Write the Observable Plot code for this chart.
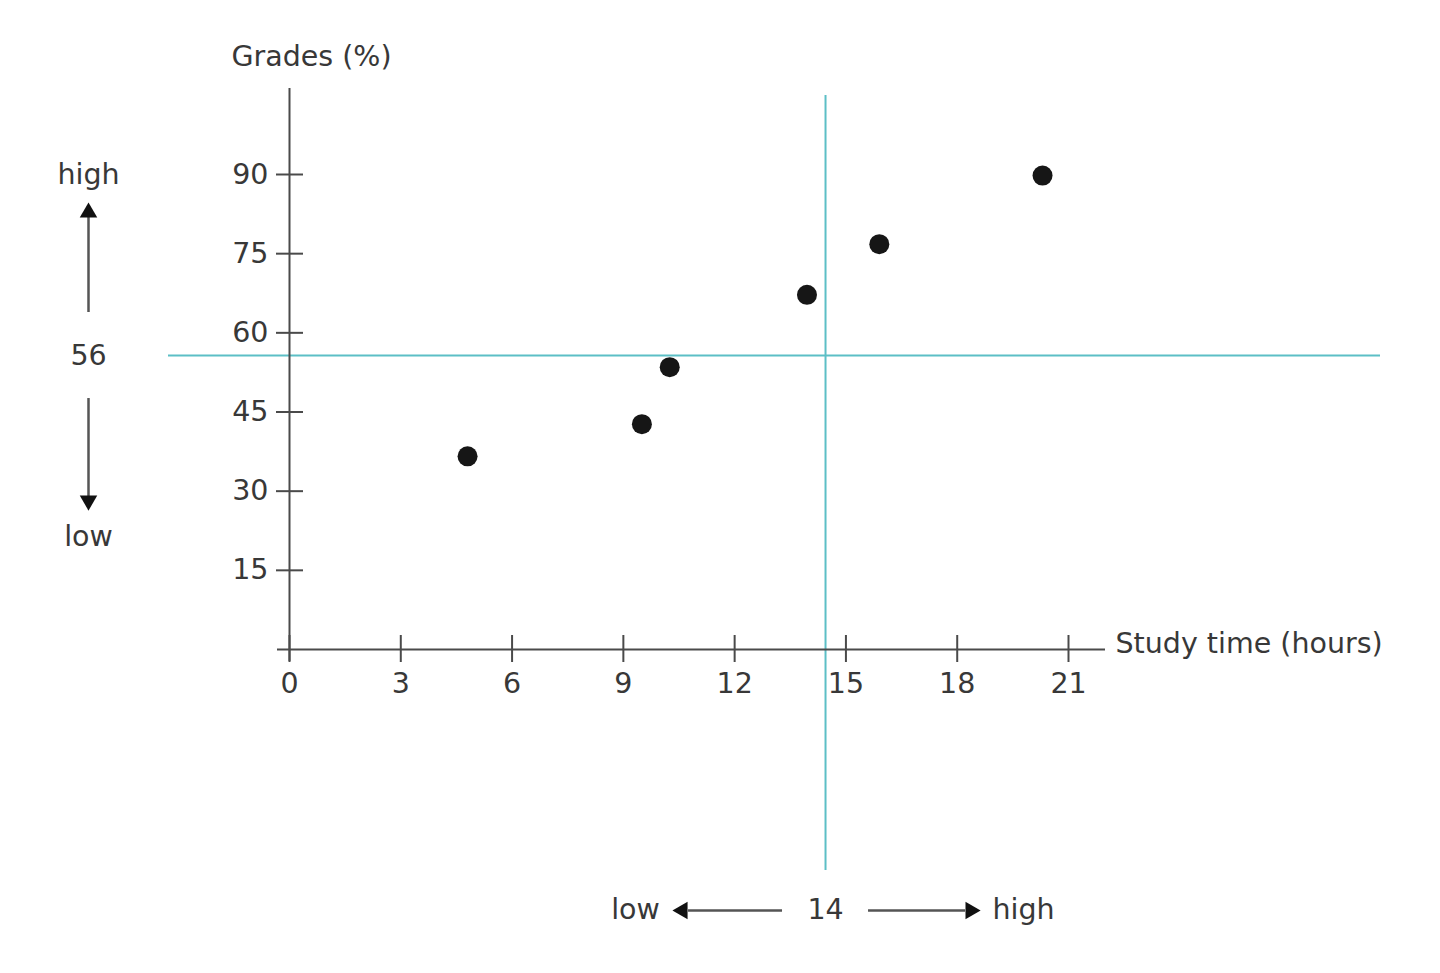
<!DOCTYPE html>
<html>
<head>
<meta charset="utf-8">
<script src="https://cdn.jsdelivr.net/npm/d3@7"></script>
<script src="https://cdn.jsdelivr.net/npm/@observablehq/plot@0.6"></script>
<style>
  html, body { margin: 0; padding: 0; background: #fff; }
  #chart svg { display: block; }
</style>
</head>
<body>
<div id="chart"></div>
<script>
// ---- data ----
const studyHours = [4.8, 9.5, 10.25, 13.95, 15.9, 20.3];
const grades     = [36.6, 42.7, 53.5, 67.2, 76.8, 89.8];
const xTicks = [0, 3, 6, 9, 12, 15, 18, 21];
const yTicks = [15, 30, 45, 60, 75, 90];
const studyRef = 14.45;      // vertical reference line
const studyRefLabel = "14";
const gradeRef = 55.7;       // horizontal reference line
const gradeRefLabel = "56";
const xLabel = "Study time (hours)";
const yLabel = "Grades (%)";
const lowLabel = "low";
const highLabel = "high";

const points = studyHours.map((h, i) => ({hours: h, grade: grades[i]}));

const cyan = "#5cbfc6";
const axisColor = "#4a4a4a";
const textColor = "#383838";
const FONT = 28.5;

const chart = Plot.plot({
  width: 1440,
  height: 973,
  marginLeft: 289,
  marginRight: 372,
  marginTop: 174,
  marginBottom: 324,
  style: {fontFamily: "'DejaVu Sans', sans-serif", background: "#fff", overflow: "visible"},
  x: {domain: [0, 21], axis: null},
  y: {domain: [0, 90], axis: null},
  marks: [
    // reference lines
    Plot.ruleX([studyRef], {stroke: cyan, strokeWidth: 2, insetTop: -79, insetBottom: -221}),
    Plot.ruleY([gradeRef], {stroke: cyan, strokeWidth: 2, insetLeft: -121, insetRight: -312}),
    // axis lines
    Plot.ruleX([0], {stroke: axisColor, strokeWidth: 2, insetTop: -86, insetBottom: -12}),
    Plot.ruleY([0], {stroke: axisColor, strokeWidth: 2, insetLeft: -12, insetRight: -37}),
    // ticks crossing the axes
    Plot.ruleX(xTicks, {x: d => d, y1: 0, y2: 0, insetTop: -14, insetBottom: -13, stroke: axisColor, strokeWidth: 2}),
    Plot.ruleY(yTicks, {y: d => d, x1: 0, x2: 0, insetLeft: -13, insetRight: -14, stroke: axisColor, strokeWidth: 2}),
    // tick labels
    Plot.text(xTicks, {x: d => d, y: 0, dy: 34, text: d => String(d), fontSize: FONT, fill: textColor}),
    Plot.text(yTicks, {x: 0, y: d => d, dx: -21, text: d => String(d), textAnchor: "end", fontSize: FONT, fill: textColor}),
    // axis titles
    Plot.text([yLabel], {frameAnchor: "top-left", dx: 22, dy: -118, textAnchor: "middle", lineAnchor: "middle", fontSize: FONT, fill: textColor}),
    Plot.text([xLabel], {frameAnchor: "bottom-right", dx: 47, dy: -6, textAnchor: "start", lineAnchor: "middle", fontSize: FONT, fill: textColor}),
    // left annotation (grade reference)
    Plot.text([gradeRefLabel], {x: 0, y: gradeRef, dx: -201, fontSize: FONT, fill: textColor}),
    Plot.text([highLabel], {x: 0, y: gradeRef, dx: -201, dy: -181, fontSize: FONT, fill: textColor}),
    Plot.text([lowLabel], {x: 0, y: gradeRef, dx: -201, dy: 181, fontSize: FONT, fill: textColor}),
    Plot.ruleX([0], {y1: gradeRef, y2: gradeRef, dx: -201, insetTop: -140, insetBottom: 43, stroke: "#555", strokeWidth: 2.5}),
    Plot.ruleX([0], {y1: gradeRef, y2: gradeRef, dx: -201, insetTop: 43, insetBottom: -142, stroke: "#555", strokeWidth: 2.5}),
    Plot.dot([0], {x: 0, y: gradeRef, dx: -201, dy: -143, symbol: "triangle", r: 6.5, fill: "#111", stroke: "none"}),
    Plot.dot([0], {x: 0, y: gradeRef, dx: -201, dy: 145, symbol: "triangle", rotate: 180, r: 6.5, fill: "#111", stroke: "none"}),
    // bottom annotation (study-time reference)
    Plot.text([studyRefLabel], {x: studyRef, y: 0, dy: 260, fontSize: FONT, fill: textColor}),
    Plot.text([lowLabel], {x: studyRef, y: 0, dx: -190, dy: 260, fontSize: FONT, fill: textColor}),
    Plot.text([highLabel], {x: studyRef, y: 0, dx: 198, dy: 260, fontSize: FONT, fill: textColor}),
    Plot.ruleY([0], {x1: studyRef, x2: studyRef, dy: 261, insetLeft: -137, insetRight: 43, stroke: "#555", strokeWidth: 2.5}),
    Plot.ruleY([0], {x1: studyRef, x2: studyRef, dy: 261, insetLeft: 43, insetRight: -140, stroke: "#555", strokeWidth: 2.5}),
    Plot.dot([0], {x: studyRef, y: 0, dx: -143, dy: 261, symbol: "triangle", rotate: -90, r: 6.5, fill: "#111", stroke: "none"}),
    Plot.dot([0], {x: studyRef, y: 0, dx: 145, dy: 261, symbol: "triangle", rotate: 90, r: 6.5, fill: "#111", stroke: "none"}),
    // data points
    Plot.dot(points, {x: "hours", y: "grade", r: 10, fill: "#161616", stroke: "none"})
  ]
});

document.getElementById("chart").append(chart);
</script>
</body>
</html>
